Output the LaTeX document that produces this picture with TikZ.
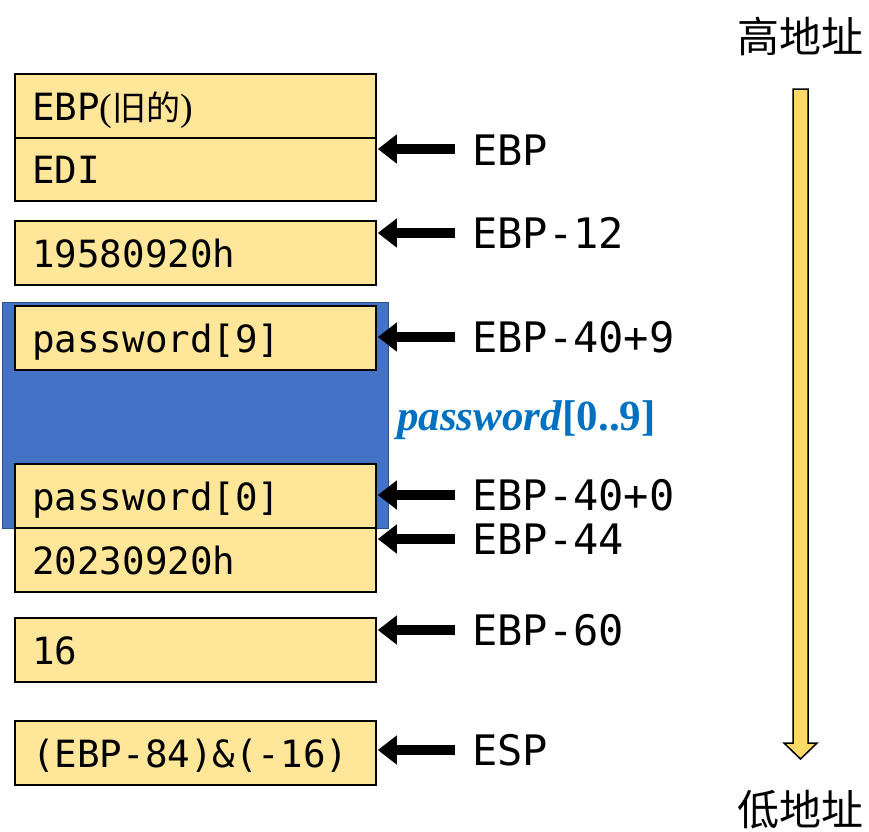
\documentclass[tikz,border=0pt]{standalone}
\usepackage{fontspec}
\setmainfont{Liberation Serif}
\newfontfamily\monofont{DejaVu Sans Mono}
\newfontfamily\cjk{Noto Sans CJK SC}
\usetikzlibrary{arrows.meta}
\definecolor{cellfill}{RGB}{255,230,153}
\definecolor{blockfill}{RGB}{68,114,196}
\definecolor{blockline}{RGB}{47,82,143}
\definecolor{pwblue}{RGB}{0,112,192}
\definecolor{dirfill}{RGB}{255,217,102}
\tikzset{
  cell/.style={draw=black, line width=1.8pt, fill=cellfill, minimum width=361pt, anchor=north west, inner sep=0pt},
  celltext/.style={anchor=base west, inner sep=0pt, font=\monofont\fontsize{37.5}{40}\selectfont},
  ptrlabel/.style={anchor=base west, inner sep=0pt, font=\monofont\fontsize{42}{44}\selectfont},
  ptr/.style={line width=10pt, -{Triangle[length=19pt,width=28pt]}},
  addrlabel/.style={anchor=center, inner sep=0pt, font=\cjk\fontsize{42}{44}\selectfont}
}
\newcommand\serifpart[1]{{\rmfamily\fontsize{38}{40}\selectfont #1}}
\begin{document}
\begin{tikzpicture}[x=1pt,y=-1pt]
\useasboundingbox (0,0) rectangle (869,831);

% the password[0..9] block behind its cells
\draw[blockline, fill=blockfill, line width=1pt] (2,302) rectangle (388,528);

% stack cells
\node[cell, minimum height=64pt] (b1) at (14,73) {};
\node[cell, minimum height=63pt] (b2) at (14,137) {};
\node[cell, minimum height=64pt] (b3) at (14,220) {};
\node[cell, minimum height=64pt] (b4) at (14,305) {};
\node[cell, minimum height=64pt] (b5) at (14,463) {};
\node[cell, minimum height=64pt] (b6) at (14,527) {};
\node[cell, minimum height=64pt] (b7) at (14,617) {};
\node[cell, minimum height=64pt] (b8) at (14,720) {};

\node[celltext] (t1) at (32,120) {EBP\serifpart{(}{\cjk\fontsize{34}{36}\selectfont 旧的}\serifpart{)}};
\node[celltext] (t2) at (32,183) {EDI};
\node[celltext] (t3) at (32,267) {19580920h};
\node[celltext] (t4) at (32,352) {password[9]};
\node[celltext] (t5) at (32,510) {password[0]};
\node[celltext] (t6) at (32,574) {20230920h};
\node[celltext] (t7) at (32,664) {16};
\node[celltext] (t8) at (32,767) {(EBP-84)\&(-16)};

% array name
\node[anchor=base west, inner sep=0pt, text=pwblue, font=\bfseries\fontsize{43}{45}\selectfont] (pw) at (397,430)
  {\textit{password}[0..9]};

% pointer labels and arrows
\coordinate (a1) at (455,149);
\coordinate (a2) at (455,233);
\coordinate (a3) at (455,337);
\coordinate (a4) at (455,495);
\coordinate (a5) at (455,539);
\coordinate (a6) at (455,630);
\coordinate (a7) at (455,750);

\node[ptrlabel] (l1) at (472,165) {EBP};
\node[ptrlabel] (l2) at (472,248) {EBP-12};
\node[ptrlabel] (l3) at (472,352) {EBP-40+9};
\node[ptrlabel] (l4) at (472,510) {EBP-40+0};
\node[ptrlabel] (l5) at (472,554) {EBP-44};
\node[ptrlabel] (l6) at (472,645) {EBP-60};
\node[ptrlabel] (l7) at (472,765) {ESP};

\draw[ptr] (a1) -- ([xshift=1pt]a1 -| b2.east);
\draw[ptr] (a2) -- ([xshift=1pt]a2 -| b3.east);
\draw[ptr] (a3) -- ([xshift=1pt]a3 -| b4.east);
\draw[ptr] (a4) -- ([xshift=1pt]a4 -| b5.east);
\draw[ptr] (a5) -- ([xshift=1pt]a5 -| b6.east);
\draw[ptr] (a6) -- ([xshift=1pt]a6 -| b7.east);
\draw[ptr] (a7) -- ([xshift=1pt]a7 -| b8.east);

% address direction
\node[addrlabel] (hi) at (800,36) {高地址};
\node[addrlabel] (lo) at (800,810) {低地址};
\draw[line width=1.5pt, fill=dirfill, line join=miter]
  (793,89) -- (808,89) -- (808,743) -- (817,743) -- (800.5,759) -- (784,743) -- (793,743) -- cycle;
\end{tikzpicture}
\end{document}
